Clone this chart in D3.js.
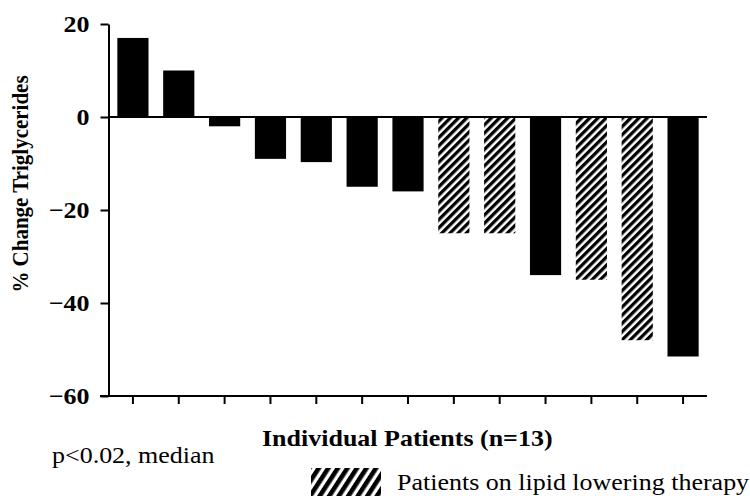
<!DOCTYPE html>
<html>
<head>
<meta charset="utf-8">
<script src="https://d3js.org/d3.v7.min.js"></script>
<style>
  body { margin: 0; background: white; }
  svg { display: block; }
</style>
</head>
<body>
<svg width="750" height="496"></svg>
<script>
// patient bars, left to right
const patients = [1, 2, 3, 4, 5, 6, 7, 8, 9, 10, 11, 12, 13]
const pctChange = [17, 10, -2, -9, -9.7, -15, -16, -25, -25, -34, -35, -48, -51.5]
const onLipidTherapy = [false, false, false, false, false, false, false, true, true, false, true, true, false]
const yTicks = [20, 0, -20, -40, -60]

const font = '"Liberation Serif", "Times New Roman", serif'
const stretch = 1.13   // the picture is a bit wider than tall

let svg = d3.select("svg")

// hatch patterns
let defs = svg.append("defs")
function addHatch(id, size, ink, angle) {
    let p = defs.append("pattern")
        .attr("id", id)
        .attr("patternUnits", "userSpaceOnUse")
        .attr("width", size)
        .attr("height", size)
        .attr("patternTransform", `rotate(${angle})`)
    p.append("rect").attr("width", size).attr("height", size).attr("fill", "white")
    p.append("rect").attr("width", ink).attr("height", size).attr("fill", "black")
}
addHatch("hatchBar", 5.8, 3.3, 45)
addHatch("hatchKey", 8, 4.6, 33)

const x = d3.scaleBand()
    .domain(patients)
    .range([110, 706])
    .paddingInner(0.32)
    .paddingOuter(0.16)

const y = d3.scaleLinear()
    .domain([-60, 20])
    .range([396, 24])

// bars
svg.append("g")
    .selectAll("rect")
    .data(patients)
    .enter()
    .append("rect")
    .attr("x", d => x(d))
    .attr("width", x.bandwidth())
    .attr("y", (d, i) => y(Math.max(0, pctChange[i])))
    .attr("height", (d, i) => Math.abs(y(pctChange[i]) - y(0)))
    .attr("fill", (d, i) => onLipidTherapy[i] ? "url(#hatchBar)" : "black")

// zero line
svg.append("line")
    .attr("x1", 108).attr("x2", 707)
    .attr("y1", y(0)).attr("y2", y(0))
    .attr("stroke", "black")
    .attr("stroke-width", 2)

// y axis
let yAxis = svg.append("g")
    .attr("transform", "translate(108.5,0)")
    .call(d3.axisLeft(y).tickValues(yTicks).tickSize(8).tickSizeOuter(0).tickPadding(11).tickFormat(d3.format("d")))
yAxis.select(".domain").attr("stroke-width", 2)
yAxis.selectAll(".tick line").attr("stroke-width", 2)
yAxis.selectAll(".tick text")
    .attr("x", null)
    .attr("transform", `translate(-19,0) scale(${stretch},1)`)
    .attr("font-family", font)
    .attr("font-size", "23px")
    .attr("font-weight", "bold")
    .attr("fill", "black")

// x axis, ticks only
let xAxis = svg.append("g")
    .attr("transform", `translate(0,${y(-60)})`)
    .call(d3.axisBottom(x).tickSize(8).tickSizeOuter(0).tickFormat(""))
xAxis.select(".domain").remove()
xAxis.selectAll(".tick line").attr("stroke-width", 2)
xAxis.append("line")
    .attr("x1", 100).attr("x2", 707)
    .attr("stroke", "black")
    .attr("stroke-width", 2)

function label(px, py, txt, size, weight) {
    return svg.append("text")
        .attr("transform", `translate(${px},${py}) scale(${stretch},1)`)
        .attr("font-family", font)
        .attr("font-size", size + "px")
        .attr("font-weight", weight)
        .attr("fill", "black")
        .text(txt)
}

// axis titles
svg.append("text")
    .attr("transform", `translate(28,184) scale(${stretch},1) rotate(-90)`)
    .attr("text-anchor", "middle")
    .attr("font-family", font)
    .attr("font-size", "21px")
    .attr("font-weight", "bold")
    .text("% Change Triglycerides")

label(262, 446, "Individual Patients (n=13)", 23, "bold")
label(52, 463, "p<0.02, median", 23, "normal")

// legend
svg.append("rect")
    .attr("x", 311).attr("y", 468)
    .attr("width", 70).attr("height", 30)
    .attr("fill", "url(#hatchKey)")
label(397, 490, "Patients on lipid lowering therapy", 23, "normal")
</script>
</body>
</html>
